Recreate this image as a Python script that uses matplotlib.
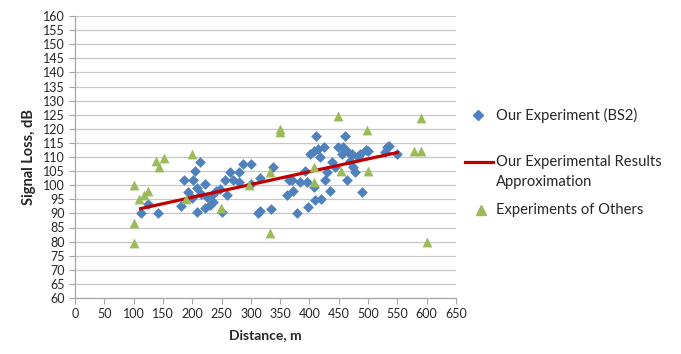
import numpy as np
import matplotlib
matplotlib.use("Agg")
import matplotlib.pyplot as plt
from matplotlib.lines import Line2D

# data
bs2_dist = [112, 125, 141, 180, 186, 193, 200, 202, 205, 208, 213, 208, 215, 222, 222,
            225, 230, 233, 236, 240, 247, 250, 256, 259, 265, 270, 279, 279, 287, 300,
            300, 315, 313, 316, 334, 337, 361, 365, 371, 372, 378, 384, 392, 395, 398,
            401, 407, 407, 410, 411, 415, 418, 419, 424, 427, 430, 435, 438, 444, 449,
            455, 458, 461, 464, 466, 470, 472, 475, 478, 482, 486, 489, 497, 500, 529,
            532, 535, 550]
bs2_loss = [90.1, 93.4, 90.0, 92.5, 101.9, 97.5, 95.5, 101.9, 105.2, 99.0, 108.3, 90.5, 97.0, 100.5, 92.0,
            95.8, 93.0, 96.5, 94.0, 98.0, 98.7, 90.5, 101.7, 96.4, 104.6, 102.0, 104.6, 101.0, 107.5, 107.5,
            100.5, 102.6, 90.1, 91.0, 91.7, 106.6, 96.4, 102.0, 101.7, 97.9, 90.0, 101.0, 105.2, 101.0, 92.3,
            111.0, 112.2, 99.3, 94.9, 117.5, 112.8, 109.9, 95.2, 113.4, 101.7, 104.6, 98.1, 108.1, 106.3, 113.4,
            111.0, 113.4, 117.5, 101.7, 111.6, 108.5, 111.0, 106.3, 104.6, 110.0, 111.0, 97.5, 112.5, 112.0, 111.6,
            113.4, 114.0, 111.0]

approx_dist = [112, 550]
approx_loss = [91.7, 111.6]

others_dist = [100, 100, 100, 110, 118, 124, 139, 144, 151, 189, 199, 249, 297, 333,
               333, 349, 350, 408, 408, 449, 453, 498, 500, 578, 590, 590, 600]
others_loss = [100.0, 86.5, 79.6, 95.0, 96.5, 98.0, 108.7, 106.6, 109.6, 95.0, 111.0, 92.0, 100.0, 104.6,
               83.0, 118.7, 120.0, 106.6, 101.3, 124.5, 105.0, 119.5, 105.0, 112.0, 112.0, 124.0, 80.0]

x_ticks = np.arange(0, 651, 50)
y_ticks = np.arange(60, 161, 5)

blue = "#4F81BD"
green = "#9BBB59"
red = "#C00000"
grey = "#A6A6A6"
txt = "#262626"

plt.rcParams['font.family'] = ['Lato', 'DejaVu Sans']

W, H = 681, 354
fig = plt.figure(figsize=(W / 100, H / 100), dpi=100)
ax = fig.add_axes([75 / W, 1 - 298 / H, (456 - 75) / W, (298 - 16) / H])

ax.scatter(bs2_dist, bs2_loss, marker="D", s=30, color=blue, linewidths=0, zorder=3)
ax.plot(approx_dist, approx_loss, color=red, lw=2.3, zorder=4)
ax.scatter(others_dist, others_loss, marker="^", s=50, color=green, linewidths=0, zorder=5)

ax.set_xlim(0, 650)
ax.set_ylim(60, 160)
ax.set_xticks(x_ticks)
ax.set_yticks(y_ticks)
ax.tick_params(axis="both", colors=grey, labelcolor=txt, labelsize=9, length=4, width=0.8)
ax.grid(axis="y", color="#C8C8C8", lw=0.9)
ax.set_axisbelow(True)
for s in ["top", "right"]:
    ax.spines[s].set_visible(False)
for s in ["left", "bottom"]:
    ax.spines[s].set_color(grey)
    ax.spines[s].set_linewidth(0.9)

ax.set_xlabel("Distance, m", fontsize=10, fontweight="bold", color=txt, labelpad=6)
ax.set_ylabel("Signal Loss, dB", fontsize=10.5, fontweight="bold", color=txt, labelpad=5)

# legend, placed by hand like the original
def fx(px):
    return px / W

def fy(py):
    return 1 - py / H

fig.add_artist(Line2D([fx(478)], [fy(115)], marker="D", markersize=5.5, color=blue, lw=0))
fig.text(fx(496), fy(115), "Our Experiment (BS2)", fontsize=10.6, color=txt, va="center")
fig.add_artist(Line2D([fx(465), fx(493)], [fy(162), fy(162)], color=red, lw=2.3))
fig.text(fx(496), fy(162), "Our Experimental Results", fontsize=10.6, color=txt, va="center")
fig.text(fx(496), fy(182), "Approximation", fontsize=10.6, color=txt, va="center")
fig.add_artist(Line2D([fx(481)], [fy(210)], marker="^", markersize=7.5, color=green, lw=0))
fig.text(fx(496), fy(210), "Experiments of Others", fontsize=10.6, color=txt, va="center")

fig.savefig("out.png", dpi=100)
